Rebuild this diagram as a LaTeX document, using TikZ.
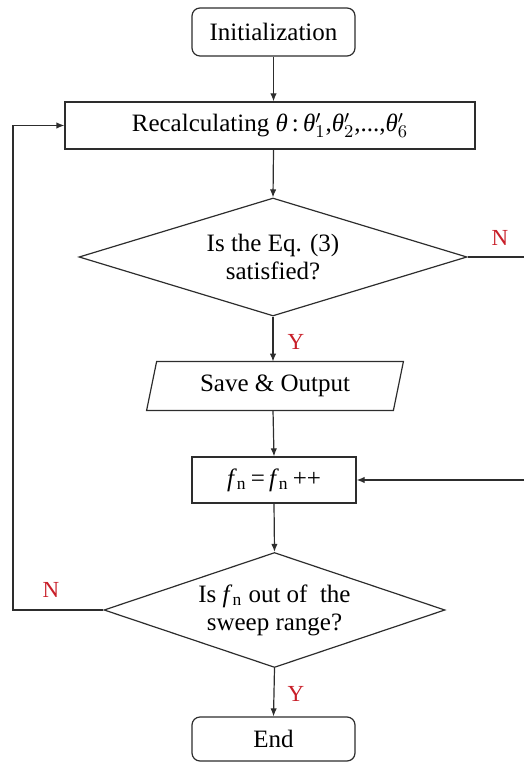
\documentclass[tikz,border=0pt]{standalone}
\usepackage{fontspec}
\setmainfont{Liberation Serif}
\usetikzlibrary{shapes.geometric,arrows.meta}
\definecolor{lin}{RGB}{45,45,45}
\definecolor{lab}{RGB}{200,30,40}
\tikzset{
  base/.style={draw=lin,line width=0.6pt,inner sep=0pt,align=center,font=\fontsize{12.5}{14}\selectfont},
  rbox/.style={base,rectangle,rounded corners=4pt},
  pbox/.style={base,rectangle},
  dbox/.style={base,diamond},
  tbox/.style={inner sep=0pt,align=center,font=\fontsize{12.5}{14}\selectfont},
  arr/.style={draw=lin,line width=0.6pt,-{Latex[length=4pt,width=3.2pt]}},
  ln/.style={draw=lin,line width=0.6pt},
  lbl/.style={text=lab,inner sep=0pt,font=\fontsize{11.5}{13}\selectfont}
}
\begin{document}
\begin{tikzpicture}[x=0.5pt,y=-0.5pt]
\useasboundingbox (0,0) rectangle (524,763);
\node[rbox,minimum width=81.5pt,minimum height=24pt] (init) at (273.5,32) {Initialization};
\node[pbox,minimum width=205pt,minimum height=23.5pt] (recalc) at (270,125.5)
  {Recalculating \textit{θ}\,:\,\textit{θ}$'_1$,\textit{θ}$'_2$,...,\textit{θ}$'_6$};
\node[dbox,aspect=3.29,minimum width=194pt,minimum height=59pt] (d1) at (273,257)
  {Is the Eq. (3)\\satisfied?};
\node[tbox,minimum width=123pt,minimum height=24pt] (save) at (275,386) {Save \& Output};
\draw[ln] ([xshift=2.5pt]save.north west) -- ([xshift=2.5pt]save.north east)
  -- ([xshift=-2.5pt]save.south east) -- ([xshift=-2.5pt]save.south west) -- cycle;
\node[pbox,minimum width=82pt,minimum height=23pt] (fn) at (274,480)
  {\textit{f}\textsubscript{n}\,=\,\textit{f}\textsubscript{n}\,++};
\node[dbox,aspect=2.97,minimum width=170.5pt,minimum height=57.5pt] (d2) at (274.5,610)
  {Is \textit{f}\textsubscript{n} out of~ the\\sweep range?};
\node[rbox,minimum width=81.5pt,minimum height=22pt] (end) at (273.5,739) {End};
\coordinate (lp) at (13,0);
\coordinate (rp) at (524,0);
\draw[arr] (init.south) -- (init.south |- recalc.north);
\draw[arr] (init.south |- recalc.south) -- (d1.north);
\draw[arr] (d1.south) -- (d1.south |- save.north);
\draw[arr] (d1.south |- save.south) -- (fn.north);
\draw[arr] (fn.south) -- (d2.north);
\draw[arr] (d2.south) -- (end.north);
\draw[arr] (d2.west) -- (d2.west -| lp) |- (recalc.west);
\draw[ln] (d1.east) -- (d1.east -| rp);
\draw[arr] (fn.east -| rp) -- (fn.east);
\node[lbl] (n1) at (500,238) {N};
\node[lbl] (y1) at (296,342) {Y};
\node[lbl] (n2) at (51,590) {N};
\node[lbl] (y2) at (296,694) {Y};
\end{tikzpicture}
\end{document}
